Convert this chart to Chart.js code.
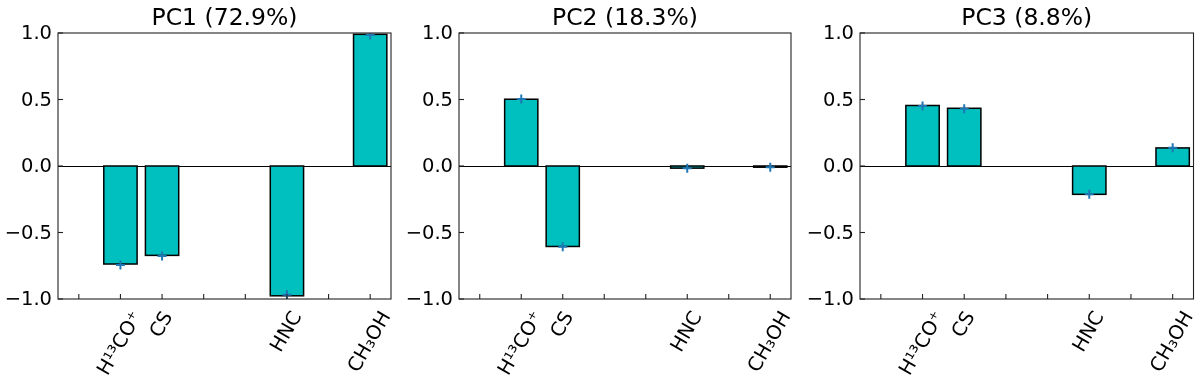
<!DOCTYPE html>
<html>
<head>
<meta charset="utf-8">
<script src="https://cdn.jsdelivr.net/npm/chart.js@4.4.0/dist/chart.umd.min.js"></script>
<style>
  html, body { margin: 0; padding: 0; background: #ffffff; }
  #wrap { position: relative; width: 1200px; height: 389px; }
  canvas { position: absolute; top: 0; }
</style>
</head>
<body>
<div id="wrap">
  <canvas id="c1" width="400" height="389" style="left:0px"></canvas>
  <canvas id="c2" width="400" height="389" style="left:400px"></canvas>
  <canvas id="c3" width="400" height="389" style="left:800px"></canvas>
</div>
<script>
// ---- data ----
const categories = ['', 'H¹³CO⁺', 'CS', '', '', 'HNC', '', 'CH₃OH'];
const titles = ['PC1 (72.9%)', 'PC2 (18.3%)', 'PC3 (8.8%)'];
const pc1Values  = [null, -0.737, -0.672, null, null, -0.976, null, 0.990];
const pc1Markers = [null, -0.745, -0.677, null, null, -0.968, null, 0.985];
const pc2Values  = [null, 0.502, -0.605, null, null, -0.016, null, -0.009];
const pc2Markers = [null, 0.504, -0.607, null, null, -0.017, null, -0.010];
const pc3Values  = [null, 0.455, 0.434, null, null, -0.213, null, 0.136];
const pc3Markers = [null, 0.451, 0.430, null, null, -0.213, null, 0.138];
const yTicks = [-1.0, -0.5, 0.0, 0.5, 1.0];

const FONT = '"DejaVu Sans", sans-serif';
const TICK_PX = 19.5;
const TITLE_PX = 23.5;

function fmt(v) {
  const s = v.toFixed(1);
  return v < 0 ? '\u2212' + s.slice(1) : s;
}

function panelPlugin(title) {
  return {
    id: 'panelDeco',
    beforeDatasetsDraw(chart) {
      const ctx = chart.ctx, a = chart.chartArea, y = chart.scales.y;
      ctx.save();
      ctx.strokeStyle = '#000';
      ctx.lineWidth = 1;
      const y0 = Math.round(y.getPixelForValue(0)) + 0.5;
      ctx.beginPath(); ctx.moveTo(a.left, y0); ctx.lineTo(a.right, y0); ctx.stroke();
      ctx.restore();
    },
    afterDatasetDraw(chart, args) {
      if (args.index !== 1) return;
      const ctx = chart.ctx;
      const vals = chart.data.datasets[1].data;
      ctx.save();
      ctx.strokeStyle = '#000';
      ctx.lineWidth = 1.5;
      args.meta.data.forEach((el, i) => {
        if (vals[i] == null) return;
        const l = el.x - el.width / 2;
        const top = Math.min(el.y, el.base), bot = Math.max(el.y, el.base);
        ctx.strokeRect(l, top, el.width, bot - top);
      });
      ctx.restore();
    },
    afterDraw(chart) {
      const ctx = chart.ctx, a = chart.chartArea, x = chart.scales.x, y = chart.scales.y;
      ctx.save();
      // frame
      ctx.strokeStyle = '#222';
      ctx.lineWidth = 1.1;
      ctx.strokeRect(a.left, a.top, a.right - a.left, a.bottom - a.top);
      // y ticks (inward) + labels
      ctx.fillStyle = '#000';
      ctx.font = TICK_PX + 'px ' + FONT;
      ctx.textAlign = 'right';
      ctx.textBaseline = 'middle';
      yTicks.forEach(v => {
        const py = y.getPixelForValue(v);
        ctx.beginPath(); ctx.moveTo(a.left, py); ctx.lineTo(a.left + 5, py); ctx.stroke();
        ctx.fillText(fmt(v), a.left - 6, py + 1);
      });
      // x ticks (inward) + rotated labels
      categories.forEach((lab, i) => {
        const px = x.getPixelForValue(i);
        ctx.beginPath(); ctx.moveTo(px, a.bottom); ctx.lineTo(px, a.bottom - 5); ctx.stroke();
        if (lab) {
          const w = ctx.measureText(lab).width;
          const h = TICK_PX * 0.95;
          const ang = 60 * Math.PI / 180;
          const bh = w * Math.sin(ang) + h * Math.cos(ang);
          ctx.save();
          ctx.translate(px, a.bottom + 10 + bh / 2);
          ctx.rotate(-ang);
          ctx.textAlign = 'center';
          ctx.textBaseline = 'middle';
          ctx.fillText(lab, 0, 0);
          ctx.restore();
        }
      });
      // title
      ctx.font = TITLE_PX + 'px ' + FONT;
      ctx.textAlign = 'center';
      ctx.textBaseline = 'alphabetic';
      ctx.fillText(title, (a.left + a.right) / 2, 24.5);
      ctx.restore();
    }
  };
}

function makePanel(id, values, markers, title, leftW, rightPad) {
  new Chart(document.getElementById(id), {
    type: 'bar',
    data: {
      labels: categories,
      datasets: [
        {
          type: 'line',
          data: markers,
          showLine: false,
          pointStyle: 'cross',
          pointRadius: 4.5,
          pointBorderWidth: 2,
          borderColor: '#1f77b4',
          backgroundColor: '#1f77b4',
          order: 0
        },
        {
          data: values,
          backgroundColor: 'rgb(0,191,191)',
          borderWidth: 0,
          categoryPercentage: 1.0,
          barPercentage: 0.8,
          order: 1
        }
      ]
    },
    options: {
      responsive: false,
      animation: false,
      devicePixelRatio: 1,
      layout: { padding: { top: 33, right: rightPad, left: 0, bottom: 0 } },
      plugins: { legend: { display: false }, tooltip: { enabled: false }, title: { display: false } },
      scales: {
        x: {
          type: 'category',
          offset: true,
          grid: { display: false, drawTicks: false },
          border: { display: false },
          ticks: { display: false },
          afterFit(s) { s.height = 90; }
        },
        y: {
          min: -1, max: 1,
          grid: { display: false, drawTicks: false },
          border: { display: false },
          ticks: { display: false },
          afterFit(s) { s.width = leftW; }
        }
      }
    },
    plugins: [panelPlugin(title)]
  });
}

makePanel('c1', pc1Values, pc1Markers, titles[0], 58, 9);
makePanel('c2', pc2Values, pc2Markers, titles[1], 59, 9);
makePanel('c3', pc3Values, pc3Markers, titles[2], 60, 5);
</script>
</body>
</html>
